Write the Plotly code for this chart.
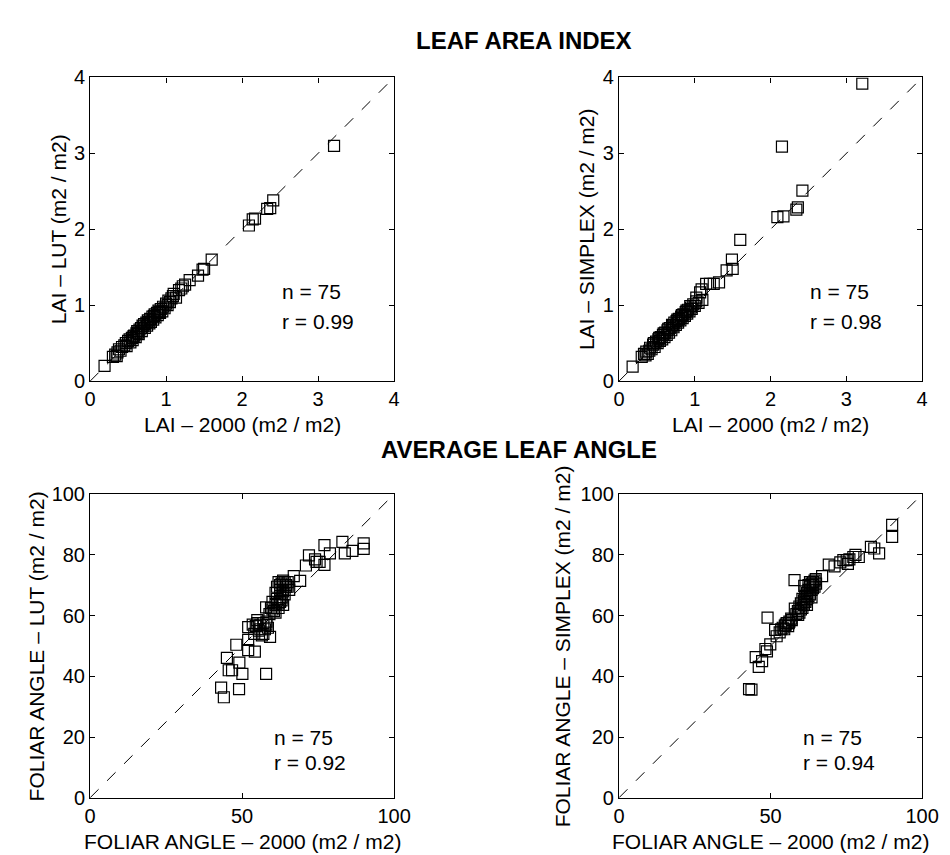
import plotly.graph_objects as go

W, H = 950, 855
FONT = "Liberation Sans, Arial, Helvetica, sans-serif"

# LAI: LAI-2000 measurements vs LUT inversion
lai_2000_lut = [0.19, 0.30, 0.33, 0.36, 0.38, 0.40, 0.42, 0.45, 0.47, 0.48,
                0.50, 0.52, 0.53, 0.55, 0.56, 0.58, 0.60, 0.61, 0.62, 0.64,
                0.65, 0.67, 0.68, 0.70, 0.71, 0.72, 0.74, 0.75, 0.76, 0.78,
                0.79, 0.80, 0.82, 0.83, 0.85, 0.86, 0.88, 0.89, 0.90, 0.92,
                0.93, 0.95, 0.96, 0.98, 1.00, 1.02, 1.03, 1.05, 1.07, 1.09,
                1.10, 1.13, 1.17, 1.20, 1.22, 1.25, 1.31, 1.42, 1.48, 1.50,
                1.60, 2.09, 2.14, 2.17, 2.33, 2.37, 2.41, 3.21,
                0.57, 0.63, 0.69, 0.77, 0.84, 0.91, 0.35]
lai_lut = [0.20, 0.32, 0.35, 0.38, 0.42, 0.40, 0.45, 0.47, 0.50, 0.46,
           0.53, 0.55, 0.51, 0.57, 0.54, 0.60, 0.58, 0.63, 0.66, 0.62,
           0.68, 0.70, 0.66, 0.72, 0.75, 0.70, 0.77, 0.73, 0.80, 0.76,
           0.82, 0.78, 0.85, 0.81, 0.88, 0.84, 0.90, 0.87, 0.93, 0.90,
           0.95, 0.92, 0.98, 0.96, 1.02, 1.00, 1.06, 1.04, 1.09, 1.12,
           1.15, 1.10, 1.20, 1.22, 1.25, 1.27, 1.33, 1.39, 1.47, 1.48,
           1.60, 2.05, 2.13, 2.14, 2.27, 2.28, 2.38, 3.10,
           0.59, 0.64, 0.73, 0.78, 0.86, 0.91, 0.33]

# LAI: LAI-2000 measurements vs SIMPLEX inversion
lai_2000_simplex = [0.18, 0.30, 0.33, 0.36, 0.38, 0.41, 0.43, 0.45, 0.47, 0.49,
                    0.51, 0.52, 0.54, 0.55, 0.57, 0.58, 0.60, 0.61, 0.63, 0.64,
                    0.66, 0.67, 0.69, 0.70, 0.72, 0.73, 0.75, 0.76, 0.78, 0.79,
                    0.81, 0.82, 0.84, 0.85, 0.87, 0.88, 0.90, 0.91, 0.93, 0.95,
                    0.96, 0.98, 1.00, 1.02, 1.02, 1.05, 1.07, 1.09, 1.10, 1.15,
                    1.20, 1.25, 1.32, 1.42, 1.50, 1.49, 1.60, 2.09, 2.17, 2.34,
                    2.36, 2.42, 2.15, 3.21,
                    0.35, 0.40, 0.46, 0.53, 0.59, 0.65, 0.71, 0.77, 0.83, 0.89, 0.94]
lai_simplex = [0.19, 0.32, 0.36, 0.39, 0.36, 0.44, 0.42, 0.48, 0.45, 0.52,
               0.50, 0.55, 0.53, 0.58, 0.55, 0.61, 0.58, 0.64, 0.61, 0.67,
               0.64, 0.70, 0.67, 0.74, 0.71, 0.77, 0.74, 0.79, 0.77, 0.82,
               0.80, 0.85, 0.83, 0.88, 0.86, 0.91, 0.89, 0.94, 0.92, 0.97,
               0.95, 1.01, 0.99, 1.05, 1.10, 1.03, 1.17, 1.21, 1.07, 1.28,
               1.28, 1.28, 1.30, 1.46, 1.48, 1.60, 1.86, 2.16, 2.17, 2.26,
               2.29, 2.51, 3.09, 3.92,
               0.34, 0.40, 0.50, 0.57, 0.63, 0.69, 0.73, 0.81, 0.87, 0.93, 0.99]

# Average leaf angle: LAI-2000 vs LUT
ang_2000_lut = [44.0, 43.1, 49.0, 57.9, 50.1, 46.7, 45.6, 49.1, 45.0, 54.2,
                52.0, 48.1, 52.0, 59.2, 52.0, 54.0, 54.5, 55.0, 55.5, 56.0,
                56.5, 57.0, 57.5, 58.0, 58.5, 57.9, 59.0, 59.5, 60.0, 60.5,
                61.0, 61.5, 62.0, 62.5, 63.0, 63.5, 61.0, 61.5, 62.0, 62.5,
                63.0, 63.5, 64.0, 64.5, 65.0, 65.5, 64.0, 67.0, 69.1, 71.0,
                72.0, 74.5, 75.5, 77.1, 77.1, 78.9, 83.0, 83.8, 86.3, 90.0,
                90.0,
                53.5, 55.0, 56.0, 57.0, 58.0, 60.0, 61.0, 62.0, 63.0, 62.5,
                63.5, 64.5, 65.0, 74.0]
ang_lut = [33.1, 36.3, 35.8, 40.8, 40.8, 42.0, 42.0, 44.5, 46.1, 48.1,
           48.6, 50.4, 52.0, 53.0, 56.2, 54.0, 56.5, 57.5, 55.0, 56.8,
           53.5, 57.5, 55.5, 58.0, 56.0, 62.7, 60.5, 62.5, 64.5, 61.5,
           63.5, 65.5, 62.5, 64.5, 66.0, 63.5, 67.5, 69.5, 71.0, 68.5,
           70.5, 68.0, 71.0, 69.5, 71.0, 68.5, 67.0, 73.0, 71.4, 76.5,
           79.8, 77.7, 77.7, 76.7, 83.2, 80.5, 84.3, 80.5, 81.3, 83.8,
           82.0,
           57.0, 58.5, 55.5, 54.0, 57.0, 62.0, 61.0, 64.0, 65.0, 70.0,
           71.5, 70.0, 69.5, 78.5]

# Average leaf angle: LAI-2000 vs SIMPLEX
ang_2000_simplex = [42.9, 43.7, 46.1, 45.1, 47.2, 48.3, 48.8, 49.9, 51.5, 52.0,
                    49.0, 54.0, 54.7, 55.3, 55.8, 56.2, 56.8, 54.5, 58.0, 59.1,
                    59.0, 59.5, 60.0, 60.0, 60.5, 61.0, 61.5, 61.5, 62.0, 62.0,
                    62.5, 62.5, 63.0, 63.0, 63.5, 63.5, 64.0, 64.0, 64.5, 64.9,
                    57.9, 61.1, 67.0, 69.2, 71.1, 74.0, 75.1, 77.3, 79.1, 83.1,
                    84.2, 85.8, 90.1, 90.1,
                    53.0, 53.5, 55.0, 56.0, 57.0, 58.5, 59.5, 60.5, 61.0, 61.5,
                    62.0, 62.5, 63.0, 63.5, 64.0, 64.5, 65.0, 73.0, 75.5, 76.0, 78.0]
ang_simplex = [35.8, 35.6, 43.1, 46.3, 45.0, 49.0, 48.2, 50.5, 55.3, 53.2,
               59.3, 56.0, 56.7, 57.5, 56.5, 58.0, 59.0, 55.5, 62.3, 60.2,
               61.5, 63.0, 64.0, 62.0, 65.5, 63.5, 66.5, 64.5, 67.5, 65.5,
               68.5, 66.5, 69.5, 67.0, 70.5, 68.5, 71.0, 69.0, 71.5, 72.0,
               71.7, 69.8, 73.0, 76.8, 76.2, 78.3, 78.3, 79.3, 79.3, 82.6,
               82.1, 80.5, 89.9, 85.9,
               54.5, 55.5, 57.0, 57.5, 58.5, 60.5, 61.0, 62.5, 65.0, 68.0,
               63.5, 70.0, 71.0, 66.0, 70.0, 69.5, 70.5, 77.5, 77.0, 78.5, 80.0]

stats = [("75", "0.99"), ("75", "0.98"), ("75", "0.92"), ("75", "0.94")]

# plot boxes in pixels: left, top, right, bottom
boxes = [(78, 60, 389.5, 371.7), (620, 60, 930.7, 371.7),
         (78, 487.7, 389.5, 799.3), (620, 487.7, 930.7, 799.3)]

panels = [
    (lai_2000_lut, lai_lut, 4, 1, "LAI – 2000 (m2 / m2)", "LAI – LUT (m2 / m2)"),
    (lai_2000_simplex, lai_simplex, 4, 1, "LAI – 2000 (m2 / m2)", "LAI – SIMPLEX (m2 / m2)"),
    (ang_2000_lut, ang_lut, 100, 50, "FOLIAR ANGLE – 2000 (m2 / m2)", "FOLIAR ANGLE – LUT (m2 / m2)"),
    (ang_2000_simplex, ang_simplex, 100, 50, "FOLIAR ANGLE – 2000 (m2 / m2)", "FOLIAR ANGLE – SIMPLEX (m2 / m2)"),
]
ytitle_px = [45, 587, 23, 563]


def px(x):
    return x / W


def py(y):
    return 1 - y / H


fig = go.Figure()
layout = {}
annotations = []

for i, (xs, ys, top, dx, xlab, ylab) in enumerate(panels):
    n = "" if i == 0 else str(i + 1)
    l, t, r, b = boxes[i]
    ydtick = 1 if top == 4 else 20
    fig.add_trace(go.Scatter(
        x=[0, top], y=[0, top], mode="lines", xaxis="x" + n, yaxis="y" + n,
        line=dict(color="black", width=1, dash="12px,12px"), hoverinfo="skip"))
    fig.add_trace(go.Scatter(
        x=xs, y=ys, mode="markers", xaxis="x" + n, yaxis="y" + n,
        marker=dict(symbol="square-open", size=11, color="black",
                    line=dict(color="black", width=1.2))))
    common = dict(showgrid=False, zeroline=False, showline=True, linecolor="black",
                  linewidth=1.2, mirror="ticks", ticks="inside", ticklen=5,
                  tickcolor="black", tick0=0,
                  tickfont=dict(family=FONT, size=20, color="black"))
    layout["xaxis" + n] = dict(common, domain=[px(l), px(r)], range=[0, top],
                               dtick=dx, anchor="y" + n)
    layout["yaxis" + n] = dict(common, domain=[py(b), py(t)], range=[0, top],
                               dtick=ydtick, anchor="x" + n)
    cx = (l + r) / 2
    cy = (t + b) / 2
    annotations.append(dict(text=xlab, x=px(cx), y=py(b + 45), xref="paper", yref="paper",
                            showarrow=False, xanchor="center", yanchor="middle",
                            font=dict(family=FONT, size=21, color="black")))
    annotations.append(dict(text=ylab, x=px(ytitle_px[i]), y=py(cy), xref="paper",
                            yref="paper", textangle=-90, showarrow=False,
                            xanchor="center", yanchor="middle",
                            font=dict(family=FONT, size=21, color="black")))
    nval, rval = stats[i]
    if top == 4:
        ny, ry, ax = 1.18, 0.79, 2.5
    else:
        ny, ry, ax = 19.7, 11.6, 60
    for txt, yy in ((f"n = {nval}", ny), (f"r = {rval}", ry)):
        annotations.append(dict(text=txt, x=ax, y=yy, xref="x" + n, yref="y" + n,
                                showarrow=False, xanchor="left", yanchor="middle",
                                font=dict(family=FONT, size=21, color="black")))

annotations.append(dict(text="<b>LEAF AREA INDEX</b>", x=px(523), y=py(22), xref="paper",
                        yref="paper", showarrow=False, xanchor="center", yanchor="middle",
                        font=dict(family=FONT, size=24, color="black")))
annotations.append(dict(text="<b>AVERAGE LEAF ANGLE</b>", x=px(518), y=py(442), xref="paper",
                        yref="paper", showarrow=False, xanchor="center", yanchor="middle",
                        font=dict(family=FONT, size=24, color="black")))

fig.update_layout(
    width=W, height=H,
    margin=dict(l=0, r=0, t=0, b=0),
    paper_bgcolor="white", plot_bgcolor="white",
    showlegend=False,
    annotations=annotations,
    **layout,
)

fig.write_html("out.html")
